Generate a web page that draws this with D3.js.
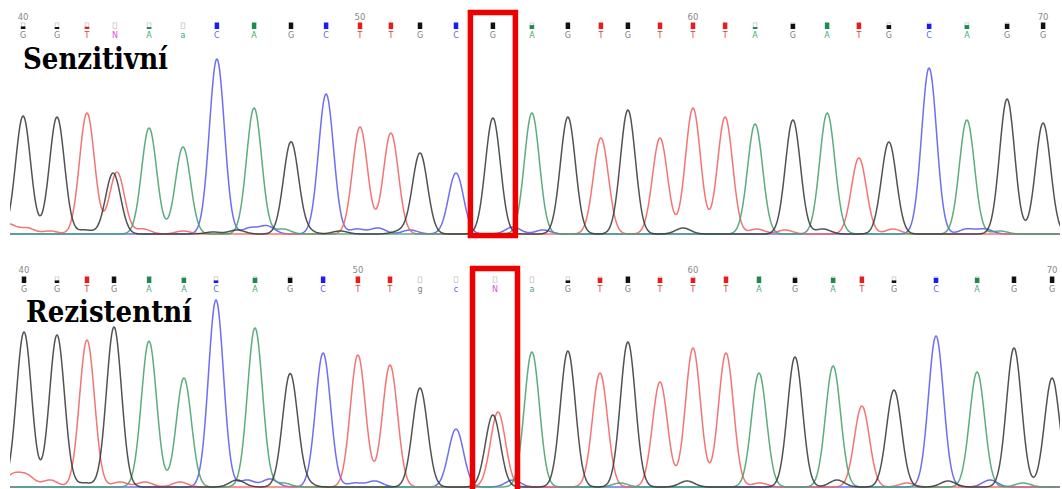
<!DOCTYPE html>
<html><head><meta charset="utf-8">
<script src="https://cdn.jsdelivr.net/npm/d3@7"></script>
<style>html,body{margin:0;padding:0;background:#fff;overflow:hidden}</style>
</head><body>
<script>
// ---------- DATA ----------
const positionLabels = [40, 50, 60, 70];
const firstPosition = 40;

// base calls
const topCalls = ["G","G","T","N","A","a","C","A","G","C","T","T","G","C","G","A","G","T","G","T","T","T","A","G","A","T","G","C","A","G","G"];
const botCalls = ["G","G","T","G","A","A","C","A","G","C","T","T","g","c","N","a","G","T","G","T","T","T","A","G","A","T","G","C","A","G","G"];

// call positions (scan units)
const topCallScan = [7.7,19.0,29.0,38.3,49.7,61.0,72.3,84.7,97.0,108.7,120.0,130.3,140.0,152.0,164.3,177.3,189.3,200.3,209.3,220.0,231.0,241.7,251.7,264.3,275.7,286.3,296.3,309.7,322.3,335.7,347.7];
const botCallScan = [8.0,19.0,29.0,38.0,49.7,61.3,72.0,85.0,96.7,107.7,119.3,130.0,140.0,152.0,165.0,177.3,189.3,200.0,209.3,220.0,231.0,242.0,253.0,265.0,277.7,287.3,298.0,312.0,325.7,338.0,350.7];

// quality bar fill (0..1)
const topQual = [0.4,0.3,0.35,0,0.3,0,1,1,1,1,1,1,1,1,1,0.6,1,1,1,1,1,1,0.3,0.8,1,1,0.6,0.8,0.6,0.8,1];
const botQual = [1,0.4,1,1,1,0.8,0.4,0.8,0.8,1,1,1,0,0,0.2,0,0.4,0.8,1,0.8,0.8,1,1,0.8,0.8,1,0.4,0.8,0.8,1,1];

// main peaks: channel, scan position, signal
const topPeakBase  = ["G","G","T","G","T","A","A","C","A","G","C","T","T","G","C","G","A","G","T","G","T","T","T","A","G","A","T","G","C","A","G","G"];
const topPeakScan  = [7.7,19.0,29.0,37.7,39.0,49.7,61.0,72.3,84.7,97.0,108.7,120.0,130.3,140.0,152.0,164.3,177.3,189.3,200.3,209.3,220.0,231.0,241.7,251.7,264.3,275.7,286.3,296.3,309.7,322.3,335.7,347.7];
const topPeakSignal= [1180,1170,1210,610,620,1060,870,1750,1260,920,1400,1070,1010,810,610,1160,1210,1170,960,1240,960,1260,1170,1100,1140,1190,760,920,1660,1140,1350,1110];

const botPeakBase  = ["G","G","T","G","A","A","C","A","G","C","T","T","G","C","G","T","A","G","T","G","T","T","T","A","G","A","T","G","C","A","G","G"];
const botPeakScan  = [8.0,19.0,29.0,38.0,49.7,61.3,72.0,85.0,96.7,107.7,119.3,130.0,140.0,152.0,164.3,166.0,177.3,189.3,200.0,209.3,220.0,231.0,242.0,253.0,265.0,277.7,287.3,298.0,312.0,325.7,338.0,350.7];
const botPeakSignal= [1550,1520,1470,1600,1430,1090,1870,1590,1130,1340,1320,1220,990,580,720,750,1350,1360,1140,1450,1050,1390,1340,1140,1300,1210,810,970,1510,1150,1390,1090];

// minor background peaks: channel, scan, signal
const topMinorBase   = ["T","T","T","G","T","T","G","G","C","C","A","G","G","C","C","C","G","C","C","G","T","T","G","A","T","C","C","A"];
const topMinorScan   = [2.7,9.0,16.7,28.3,47.7,61.0,71.0,79.0,83.3,89.0,94.3,102.3,113.3,119.0,126.0,136.7,133.3,171.0,181.0,227.7,252.3,261.7,274.3,278.7,297.7,322.3,328.3,333.3];
const topMinorSignal = [100,60,30,40,50,30,20,40,60,80,50,30,30,50,60,40,30,70,40,60,50,40,50,40,50,50,50,30];

const botMinorBase   = ["T","T","T","G","T","T","A","T","G","C","C","A","G","C","C","C","A","G","T","G","T","G","C","A"];
const botMinorScan   = [4.3,9.0,16.7,28.3,40.0,48.3,47.7,60.0,79.0,82.3,90.0,94.3,101.7,118.3,125.0,171.0,206.7,229.0,253.3,279.0,302.3,316.0,330.0,341.0];
const botMinorSignal = [120,110,70,40,50,50,40,50,70,70,80,40,40,40,60,70,40,60,40,70,40,60,70,40];

const labels = ["Senzitivní", "Rezistentní"];

// ---------- STYLE ----------
const W = 1062, H = 489;
const traceColor = {G:"#3a3a3a", A:"#45a06e", T:"#f06262", C:"#5a5af2"};
const boxColor   = {G:"#111111", A:"#1e8a50", T:"#e81c1c", C:"#1c1cf0", N:"#dddddd"};
const letterColor= {G:"#808080", A:"#40a870", T:"#e84040", C:"#6060ff", N:"#e050e0"};
const SIGMA = 2.5;

const svg = d3.select("body").append("svg").attr("width", W).attr("height", H)
  .style("font-family", "'DejaVu Sans', sans-serif");

const x = d3.scaleLinear().domain([0, 354]).range([0, W]);

svg.append("defs").append("clipPath").attr("id","clipTrace")
  .append("rect").attr("x", 10).attr("y", 0).attr("width", 1050).attr("height", H);

function drawPanel(cfg) {
  const y = d3.scaleLinear().domain([0, 1000]).range([cfg.baseline, cfg.baseline - 100]);
  const g = svg.append("g");
  const channels = ["C","T","A","G"];
  const allPeaks = [];
  cfg.peakBase.forEach((b,i) => allPeaks.push({b, s: cfg.peakScan[i], h: cfg.peakSignal[i]}));
  cfg.minorBase.forEach((b,i) => allPeaks.push({b, s: cfg.minorScan[i], h: cfg.minorSignal[i]}));
  const samples = d3.range(0, 355, 0.25);
  const line = d3.line().x(d => x(d[0])).y(d => y(d[1])).curve(d3.curveMonotoneX);
  const tg = g.append("g").attr("clip-path","url(#clipTrace)");
  channels.forEach(ch => {
    const pk = allPeaks.filter(p => p.b === ch);
    const pts = samples.map(s => {
      let v = 0;
      pk.forEach(p => { const d = (s - p.s) / SIGMA; v += p.h * Math.exp(-0.5 * d * d); });
      return [s, v];
    });
    tg.append("path").attr("d", line(pts)).attr("fill","none")
      .attr("stroke", traceColor[ch]).attr("stroke-width", 1.5).attr("stroke-opacity", 0.88)
      .attr("stroke-linejoin","round");
  });

  // header: position numbers
  cfg.calls.forEach((c, i) => {
    const pos = firstPosition + i;
    const cx = x(cfg.callScan[i]);
    if (positionLabels.includes(pos)) {
      g.append("text").attr("x", cx).attr("y", cfg.numY).attr("text-anchor","middle")
        .attr("font-size", 8.5).attr("fill", "#888").text(pos);
    }
    const up = c.toUpperCase();
    const q = cfg.qual[i];
    const bw = 4.5, bh = 6.5;
    if (q >= 1) {
      g.append("rect").attr("x", cx - bw/2).attr("y", cfg.boxY).attr("width", bw).attr("height", bh)
        .attr("fill", boxColor[up]);
    } else {
      g.append("rect").attr("x", cx - bw/2 + 0.4).attr("y", cfg.boxY + 0.4).attr("width", bw - 0.8).attr("height", bh - 0.8)
        .attr("fill", "none").attr("stroke", "#c8c8c8").attr("stroke-width", 0.8);
      if (q > 0) {
        g.append("rect").attr("x", cx - bw/2).attr("y", cfg.boxY + bh * (1 - q)).attr("width", bw).attr("height", bh * q)
          .attr("fill", boxColor[up]);
      }
    }
    g.append("text").attr("x", cx).attr("y", cfg.letterY).attr("text-anchor","middle")
      .attr("font-size", 8).attr("fill", letterColor[up]).text(c);
  });

  // sample label
  g.append("text").attr("x", cfg.labelX).attr("y", cfg.labelY)
    .attr("font-family", "'DejaVu Serif', serif").attr("font-weight", "bold")
    .attr("font-size", 29).attr("fill", "#000")
    .attr("textLength", cfg.labelW).attr("lengthAdjust", "spacingAndGlyphs")
    .text(cfg.label);

  // highlight box around mutated position
  const hs = cfg.callScan[cfg.highlight];
  g.append("rect").attr("x", x(hs) - 22.5).attr("y", cfg.boxTop).attr("width", 45)
    .attr("height", cfg.boxBottom - cfg.boxTop)
    .attr("fill","none").attr("stroke","#ee0000").attr("stroke-width", 5.5);
}

drawPanel({
  calls: topCalls, callScan: topCallScan, qual: topQual,
  peakBase: topPeakBase, peakScan: topPeakScan, peakSignal: topPeakSignal,
  minorBase: topMinorBase, minorScan: topMinorScan, minorSignal: topMinorSignal,
  baseline: 234, numY: 20, boxY: 22.5, letterY: 37.5,
  label: labels[0], labelX: 23, labelY: 69, labelW: 145,
  highlight: 14, boxTop: 12.5, boxBottom: 235.5
});
drawPanel({
  calls: botCalls, callScan: botCallScan, qual: botQual,
  peakBase: botPeakBase, peakScan: botPeakScan, peakSignal: botPeakSignal,
  minorBase: botMinorBase, minorScan: botMinorScan, minorSignal: botMinorSignal,
  baseline: 487, numY: 273, boxY: 276.5, letterY: 291.5,
  label: labels[1], labelX: 26, labelY: 322, labelW: 166,
  highlight: 14, boxTop: 268.5, boxBottom: 500
});
</script>
</body></html>
